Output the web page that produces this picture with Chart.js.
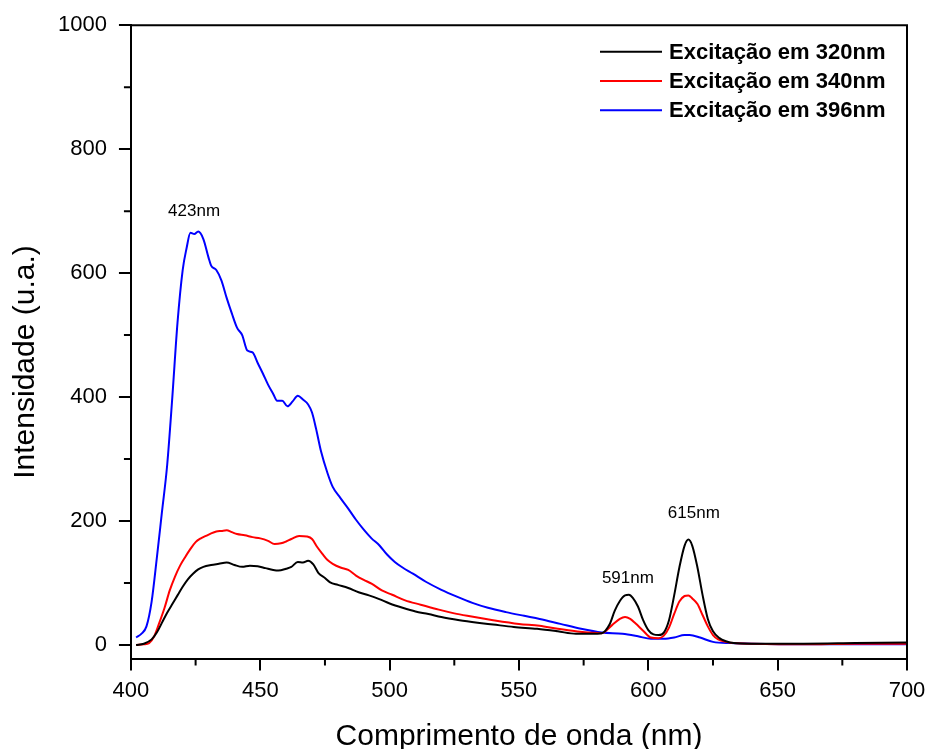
<!DOCTYPE html>
<html>
<head>
<meta charset="utf-8">
<script src="https://cdn.jsdelivr.net/npm/chart.js@4.4.1/dist/chart.umd.min.js"></script>
<style>
  body { margin: 0; background: #fff; }
  canvas { display: block; }
</style>
</head>
<body>
<canvas id="chart" width="930" height="749"></canvas>
<script>
// wavelength (nm) / intensity (u.a.)
const wl320 = [402, 405, 408, 410, 412, 414, 416, 418, 420, 422, 424, 426, 428, 431, 434, 437, 440, 443, 446, 449, 452, 455, 457, 460, 462, 464.5, 466.5, 468.5, 470.5, 472.5, 475, 477, 480, 484, 488, 492, 496, 500, 505, 510, 515, 520, 527, 534, 540, 548, 557, 565, 572, 578, 582, 585, 587, 589, 591, 592.5, 594, 596, 598, 600, 602, 604, 606, 608, 610, 612, 614, 615.5, 617, 619, 621, 623, 625, 627.5, 630, 633, 640, 660, 680, 700];
const int320 = [0, 2, 9, 20, 36, 52, 66, 80, 94, 106, 115, 122, 126, 129, 131, 133, 129, 126, 128, 127, 124, 121, 120, 123, 126, 134, 133, 136, 130, 116, 108, 101, 97, 92, 85, 80, 74, 67, 60, 54, 50, 45, 40, 36, 33, 29, 26, 22, 18, 18, 19, 33, 55, 71, 80, 81, 76, 62, 40, 24, 17, 16, 20, 40, 80, 125, 160, 170, 160, 125, 80, 42, 22, 11, 6, 3, 2, 2, 3, 4];

const wl340 = [402, 405, 407, 409, 411, 413, 415, 417, 419, 421, 423, 425, 427, 429, 431, 433, 435, 437, 439, 441, 444, 447, 450, 453, 455.5, 458, 460, 462, 465, 468, 470, 472, 474, 476, 478, 481, 484, 487, 490, 493, 497, 501, 506, 512, 519, 525, 530, 540, 550, 558, 565, 572, 582, 586, 589, 591, 593, 595, 598, 601, 604, 606, 608, 610, 612, 614, 615.5, 617, 619, 621, 623, 625, 627, 630, 633, 640, 660, 680, 700];
const int340 = [0, 1, 3, 14, 36, 60, 88, 110, 128, 142, 155, 166, 172, 176, 180, 183, 184, 185, 182, 179, 177, 174, 172, 168, 163, 164, 167, 171, 176, 175, 171, 158, 147, 137, 131, 125, 121, 112, 105, 99, 88, 81, 72, 65, 57, 51, 47, 40, 34, 31, 26, 22, 19, 32, 42, 45, 42, 35, 23, 12, 11, 15, 28, 50, 70, 79, 80, 75, 66, 48, 30, 16, 9, 5, 3, 2, 1, 2, 2];

const wl396 = [402, 404, 406, 408, 410, 412, 414, 416, 418, 420, 421.5, 423, 424.5, 426, 428, 430, 431, 433, 435, 437, 439, 441, 443, 445, 447, 449, 451, 453, 455, 456.5, 458.5, 460.5, 462.5, 464.5, 466.5, 468.5, 470, 471.5, 473.5, 476, 478, 481, 484, 487, 490, 493, 496, 499, 502, 505, 509, 514, 520, 526, 532, 538, 545, 552, 558, 566, 574, 582, 590, 596, 601, 606, 610, 614, 616, 620, 625, 632, 640, 660, 680, 700];
const int396 = [12, 18, 30, 70, 140, 215, 290, 400, 520, 605, 640, 665, 663, 667, 655, 625, 612, 605, 588, 560, 535, 512, 500, 475, 472, 455, 438, 420, 405, 394, 394, 385, 393, 402, 396, 388, 375, 350, 312, 277, 255, 237, 220, 202, 186, 172, 161, 146, 134, 125, 115, 102, 89, 78, 68, 60, 53, 47, 42, 34, 26, 20, 18, 14, 10, 10, 12, 16, 16, 12, 5, 3, 2, 1, 1, 1];

const seriesNames = ['Excitação em 320nm', 'Excitação em 340nm', 'Excitação em 396nm'];
const seriesColors = ['#000000', '#ff0000', '#0000ff'];

const xMajor = [400, 450, 500, 550, 600, 650, 700];
const xMinor = [425, 475, 525, 575, 625, 675];
const yMajor = [0, 200, 400, 600, 800, 1000];
const yMinor = [100, 300, 500, 700, 900];

const peakText = ['423nm', '591nm', '615nm'];
const peakTextX = [424.4, 592.1, 617.6];
const peakTextY = [700, 108, 212];

const xTitle = 'Comprimento de onda (nm)';
const yTitle = 'Intensidade (u.a.)';

const FONT = "'Liberation Sans', Arial, sans-serif";

function toPoints(xs, ys) {
    return xs.map((x, i) => ({ x: x, y: ys[i] }));
}

const framePlugin = {
    id: 'frame',
    afterDraw(chart) {
        const ctx = chart.ctx;
        const area = chart.chartArea;
        const xs = chart.scales.x;
        const ys = chart.scales.y;
        ctx.save();
        ctx.strokeStyle = '#000';
        ctx.lineWidth = 2;
        ctx.beginPath();
        // top and right sides of the box
        ctx.moveTo(area.left, area.top);
        ctx.lineTo(area.right, area.top);
        ctx.lineTo(area.right, area.bottom);
        // minor ticks
        yMinor.forEach(v => {
            const py = ys.getPixelForValue(v);
            ctx.moveTo(area.left - 7, py);
            ctx.lineTo(area.left, py);
        });
        xMinor.forEach(v => {
            const px = xs.getPixelForValue(v);
            ctx.moveTo(px, area.bottom);
            ctx.lineTo(px, area.bottom + 7);
        });
        ctx.stroke();

        // axis titles
        ctx.fillStyle = '#000';
        ctx.font = '30px ' + FONT;
        ctx.textAlign = 'center';
        ctx.textBaseline = 'middle';
        ctx.fillText(xTitle, (area.left + area.right) / 2, 737);
        ctx.save();
        ctx.translate(26, 362);
        ctx.rotate(-Math.PI / 2);
        ctx.fillText(yTitle, 0, 0);
        ctx.restore();

        // peak labels
        ctx.font = '17px ' + FONT;
        peakText.forEach((t, i) => {
            ctx.fillText(t, xs.getPixelForValue(peakTextX[i]), ys.getPixelForValue(peakTextY[i]));
        });

        // legend
        ctx.font = 'bold 22px ' + FONT;
        ctx.textAlign = 'left';
        chart.data.datasets.forEach((ds, i) => {
            const y = area.top + 26.5 + i * 29.3;
            ctx.strokeStyle = ds.borderColor;
            ctx.lineWidth = 2;
            ctx.beginPath();
            ctx.moveTo(area.right - 307, y);
            ctx.lineTo(area.right - 245, y);
            ctx.stroke();
            ctx.fillStyle = '#000';
            ctx.fillText(ds.label, area.right - 238, y + 1);
        });
        ctx.restore();
    }
};

const datasets = [
    { label: seriesNames[0], data: toPoints(wl320, int320), borderColor: seriesColors[0] },
    { label: seriesNames[1], data: toPoints(wl340, int340), borderColor: seriesColors[1] },
    { label: seriesNames[2], data: toPoints(wl396, int396), borderColor: seriesColors[2] }
].map(ds => Object.assign(ds, {
    borderWidth: 2,
    pointRadius: 0,
    fill: false,
    cubicInterpolationMode: 'monotone'
}));

const axisStyle = {
    grid: {
        display: true,
        drawOnChartArea: false,
        drawTicks: true,
        tickLength: 12,
        color: '#000',
        lineWidth: 2
    },
    border: { display: true, color: '#000', width: 2 }
};

new Chart(document.getElementById('chart'), {
    type: 'line',
    data: { datasets: datasets },
    options: {
        responsive: false,
        animation: false,
        layout: { padding: { left: 46, right: 23, top: 25, bottom: 38 } },
        plugins: {
            legend: { display: false },
            tooltip: { enabled: false }
        },
        scales: {
            x: Object.assign({
                type: 'linear',
                min: 400,
                max: 700,
                afterBuildTicks: axis => { axis.ticks = xMajor.map(v => ({ value: v })); },
                // the "700" label may hang over the right edge, like the original
                afterFit: axis => { axis.paddingRight = 0; },
                ticks: {
                    color: '#000',
                    font: { family: FONT, size: 22 },
                    padding: 7,
                    maxRotation: 0,
                    autoSkip: false,
                    callback: v => String(v)
                }
            }, axisStyle),
            y: Object.assign({
                type: 'linear',
                min: -22,
                max: 1000,
                afterBuildTicks: axis => { axis.ticks = yMajor.map(v => ({ value: v })); },
                ticks: {
                    color: '#000',
                    font: { family: FONT, size: 22 },
                    padding: 12,
                    callback: v => String(v)
                }
            }, axisStyle)
        }
    },
    plugins: [framePlugin]
});
</script>
</body>
</html>
